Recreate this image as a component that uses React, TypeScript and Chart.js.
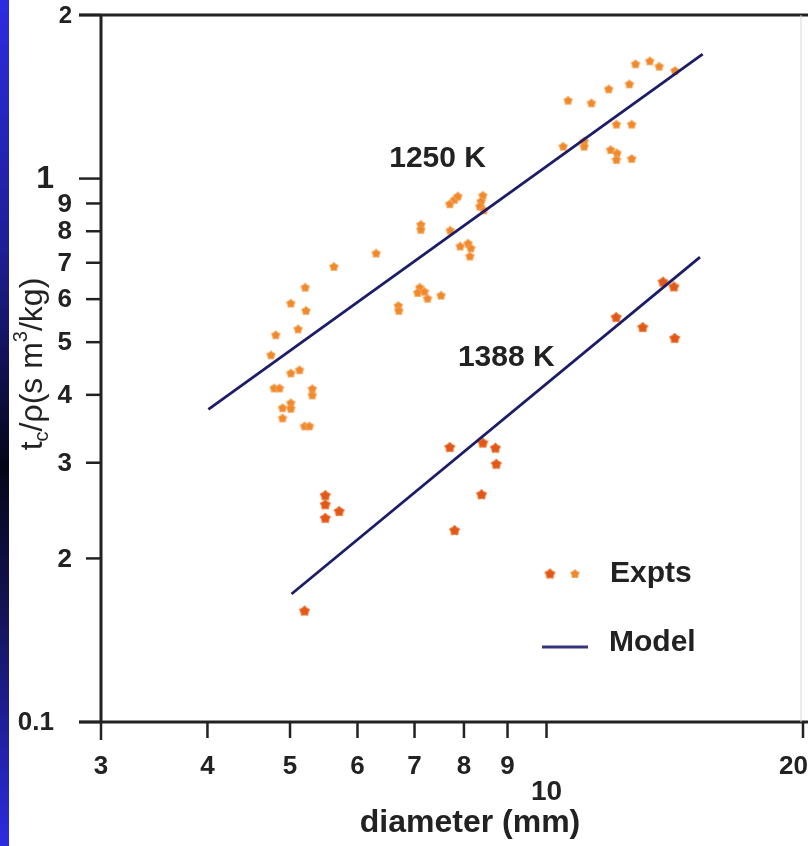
import React, { useEffect, useRef } from "react";
import { Chart, registerables } from "chart.js";

Chart.register(...registerables);

// ---------- data ----------
const xTickValues = [3, 4, 5, 6, 7, 8, 9, 10, 20];
const xTickLabels = ["3", "4", "5", "6", "7", "8", "9", "10", "20"];
const yTickValues = [0.1, 0.2, 0.3, 0.4, 0.5, 0.6, 0.7, 0.8, 0.9, 1, 2];
const yTickLabels = ["0.1", "2", "3", "4", "5", "6", "7", "8", "9", "1", "2"];

const diam1250 = [
  4.75, 4.81, 5.11, 5.01, 5.22, 5.21, 5.63, 6.31, 6.70, 6.71, 7.10, 7.06, 7.19, 7.25, 7.52,
  7.12, 7.12, 7.71, 7.70, 7.80, 7.87, 7.92, 8.09, 8.15, 8.13, 8.42, 8.38, 8.35, 8.44,
  10.46, 11.07, 11.07, 11.89, 12.10, 12.08, 12.59, 12.08, 12.59, 10.60, 11.29, 11.83, 12.51,
  12.72, 13.22, 13.56, 14.15,
  5.01, 5.13, 4.79, 4.86, 5.31, 5.31, 5.01, 4.90, 5.01, 4.90, 5.20, 5.27,
];
const time1250 = [
  0.473, 0.515, 0.528, 0.589, 0.571, 0.630, 0.688, 0.728, 0.583, 0.571, 0.630, 0.616, 0.619, 0.601, 0.609,
  0.822, 0.805, 0.802, 0.897, 0.914, 0.927, 0.750, 0.759, 0.744, 0.719, 0.930, 0.907, 0.888, 0.874,
  1.145, 1.170, 1.145, 1.129, 1.113, 1.082, 1.087, 1.257, 1.257, 1.391, 1.376, 1.460, 1.491,
  1.623, 1.644, 1.607, 1.578,
  0.438, 0.444, 0.411, 0.411, 0.410, 0.399, 0.386, 0.378, 0.377, 0.362, 0.350, 0.350,
];

const diam1388 = [5.20, 5.50, 5.50, 5.50, 5.71, 7.70, 7.80, 8.42, 8.71, 8.73, 8.39, 12.07, 12.97, 13.70, 14.11, 14.14];
const time1388 = [0.160, 0.261, 0.251, 0.237, 0.244, 0.320, 0.225, 0.326, 0.319, 0.298, 0.262, 0.555, 0.532, 0.645, 0.632, 0.508];

const model1250Diam = [4.01, 15.25];
const model1250Time = [0.376, 1.695];
const model1388Diam = [5.02, 15.14];
const model1388Time = [0.172, 0.717];

const annotations = [
  { text: "1250 K", x: 7.45, y: 1.09 },
  { text: "1388 K", x: 8.97, y: 0.469 },
];

// ---------- styles ----------
const NAVY = "#1c1c68";
const C1250 = "#F0882C";
const C1250_EDGE = "#F6A455";
const C1388 = "#E2581A";
const C1388_EDGE = "#EE7A34";
const INK = "#222222";
const FONT = "'Liberation Sans', Arial, Helvetica, sans-serif";

function makeStar(r: number, fill: string, edge: string): HTMLCanvasElement {
  const c = document.createElement("canvas");
  const s = Math.ceil(r * 2 + 4);
  c.width = s;
  c.height = s;
  const ctx = c.getContext("2d")!;
  ctx.beginPath();
  for (let i = 0; i < 10; i++) {
    const rad = i % 2 === 0 ? r : r * 0.7;
    const a = -Math.PI / 2 + (i * Math.PI) / 5;
    const px = s / 2 + rad * Math.cos(a);
    const py = s / 2 + rad * Math.sin(a);
    if (i === 0) ctx.moveTo(px, py);
    else ctx.lineTo(px, py);
  }
  ctx.closePath();
  ctx.fillStyle = fill;
  ctx.fill();
  ctx.strokeStyle = edge;
  ctx.lineWidth = 1;
  ctx.stroke();
  return c;
}

export default function App() {
  const ref = useRef<HTMLCanvasElement | null>(null);

  useEffect(() => {
    const canvas = ref.current;
    if (!canvas) return;
    const star1250 = makeStar(4.6, C1250, C1250_EDGE);
    const star1388 = makeStar(5.4, C1388, C1388_EDGE);

    const decor = {
      id: "decor",
      beforeDraw(chart: any) {
        const ctx = chart.ctx as CanvasRenderingContext2D;
        const H = chart.height;
        ctx.save();
        ctx.fillStyle = "#ffffff";
        ctx.fillRect(0, 0, chart.width, H);
        const g = ctx.createLinearGradient(0, 0, 0, H);
        g.addColorStop(0, "#2c2ce2");
        g.addColorStop(0.3, "#1e1e95");
        g.addColorStop(0.55, "#050518");
        g.addColorStop(0.72, "#131355");
        g.addColorStop(1, "#2c2ce2");
        ctx.fillStyle = g;
        ctx.fillRect(0, 0, 9, H);
        ctx.restore();
      },
      afterDraw(chart: any) {
        const ctx = chart.ctx as CanvasRenderingContext2D;
        const xs = chart.scales.x;
        const ys = chart.scales.y;
        const area = chart.chartArea;
        const L = area.left;
        const B = area.bottom;
        const T = area.top;
        const R = area.right;
        ctx.save();
        ctx.strokeStyle = INK;
        ctx.fillStyle = INK;
        ctx.lineCap = "butt";

        // frame
        ctx.lineWidth = 3;
        ctx.beginPath();
        ctx.moveTo(L, T - 1.5);
        ctx.lineTo(L, B + 1.5);
        ctx.moveTo(79, B);
        ctx.lineTo(chart.width, B);
        ctx.moveTo(79, T);
        ctx.lineTo(chart.width, T);
        ctx.stroke();
        ctx.strokeStyle = "#d8d8d8";
        ctx.lineWidth = 1;
        ctx.beginPath();
        ctx.moveTo(R - 2, T);
        ctx.lineTo(R - 2, B);
        ctx.stroke();

        // y ticks and labels
        ctx.strokeStyle = INK;
        ctx.lineWidth = 2.5;
        yTickValues.forEach((v, i) => {
          const py = ys.getPixelForValue(v);
          const major = v === 0.1 || v === 1 || v === 2;
          ctx.beginPath();
          ctx.moveTo(major ? 79 : 86, py);
          ctx.lineTo(L, py);
          ctx.stroke();
          let size = 26;
          let rx = 72;
          if (v === 1) { size = 32; rx = 54; }
          else if (v === 0.1) { size = 26; rx = 54; }
          else if (v === 2) { size = 24; rx = 72; }
          ctx.font = `bold ${size}px ${FONT}`;
          ctx.textAlign = "right";
          ctx.textBaseline = "middle";
          ctx.fillText(yTickLabels[i], rx, py + 1);
        });

        // x ticks and labels
        xTickValues.forEach((v, i) => {
          const px = xs.getPixelForValue(v);
          ctx.beginPath();
          ctx.moveTo(px, B);
          ctx.lineTo(px, B + (v === 3 ? 18 : 16));
          ctx.stroke();
          const lab = xTickLabels[i];
          const size = v === 10 ? 28 : 26;
          ctx.font = `bold ${size}px ${FONT}`;
          ctx.textBaseline = "middle";
          ctx.textAlign = "center";
          const w = ctx.measureText(lab).width;
          const cx = Math.min(px, chart.width - w / 2);
          ctx.fillText(lab, cx, v === 10 ? 792 : 767);
        });

        // x title
        ctx.font = `bold 32px ${FONT}`;
        ctx.textAlign = "center";
        ctx.textBaseline = "middle";
        ctx.fillText("diameter (mm)", 470, 823);

        // y title (rotated) with sub/superscript
        const segs = [
          { t: "t", s: 32, dy: 0 },
          { t: "c", s: 20, dy: 6 },
          { t: "/\u03c1(s m", s: 32, dy: 0 },
          { t: "3", s: 20, dy: -15 },
          { t: "/kg)", s: 32, dy: 0 },
        ];
        let total = 0;
        const widths = segs.map((sg) => {
          ctx.font = `${sg.s}px ${FONT}`;
          const w = ctx.measureText(sg.t).width;
          total += w;
          return w;
        });
        ctx.save();
        ctx.translate(42, 364);
        ctx.rotate(-Math.PI / 2);
        ctx.textAlign = "left";
        ctx.textBaseline = "alphabetic";
        let cx = -total / 2;
        segs.forEach((sg, i) => {
          ctx.font = `${sg.s}px ${FONT}`;
          ctx.fillText(sg.t, cx, sg.dy);
          cx += widths[i];
        });
        ctx.restore();

        // annotations
        ctx.font = `bold 30px ${FONT}`;
        ctx.textAlign = "center";
        ctx.textBaseline = "middle";
        annotations.forEach((a) => {
          ctx.fillText(a.text, xs.getPixelForValue(a.x), ys.getPixelForValue(a.y));
        });

        // legend
        ctx.drawImage(star1388, 550 - star1388.width / 2, 574 - star1388.height / 2);
        ctx.drawImage(star1250, 575 - star1250.width / 2, 574 - star1250.height / 2);
        ctx.font = `bold 30px ${FONT}`;
        ctx.textAlign = "left";
        ctx.textBaseline = "middle";
        ctx.fillText("Expts", 610, 574);
        ctx.strokeStyle = "#35357c";
        ctx.lineWidth = 3;
        ctx.beginPath();
        ctx.moveTo(542, 647);
        ctx.lineTo(588, 647);
        ctx.stroke();
        ctx.fillText("Model", 609, 643);

        ctx.restore();
      },
    };

    const chart = new Chart(canvas, {
      type: "scatter",
      data: {
        datasets: [
          {
            label: "Model 1250 K",
            data: model1250Diam.map((x, i) => ({ x, y: model1250Time[i] })),
            showLine: true,
            borderColor: NAVY,
            borderWidth: 2.8,
            pointRadius: 0,
          },
          {
            label: "Model 1388 K",
            data: model1388Diam.map((x, i) => ({ x, y: model1388Time[i] })),
            showLine: true,
            borderColor: NAVY,
            borderWidth: 2.8,
            pointRadius: 0,
          },
          {
            label: "Expts 1250 K",
            data: diam1250.map((x, i) => ({ x, y: time1250[i] })),
            pointStyle: star1250 as any,
            pointRadius: 4,
          },
          {
            label: "Expts 1388 K",
            data: diam1388.map((x, i) => ({ x, y: time1388[i] })),
            pointStyle: star1388 as any,
            pointRadius: 4,
          },
        ],
      },
      options: {
        responsive: false,
        animation: false,
        layout: { padding: { top: 15, right: 1, left: 0, bottom: 0 } },
        plugins: { legend: { display: false }, tooltip: { enabled: false } },
        scales: {
          x: {
            type: "logarithmic",
            min: 3,
            max: 20,
            ticks: { display: false },
            grid: { display: false, drawTicks: false },
            border: { display: false },
            afterFit: (s: any) => {
              s.height = 124;
            },
          },
          y: {
            type: "logarithmic",
            min: 0.1,
            max: 2,
            ticks: { display: false },
            grid: { display: false, drawTicks: false },
            border: { display: false },
            afterFit: (s: any) => {
              s.width = 101;
            },
          },
        },
      } as any,
      plugins: [decor],
    });

    return () => chart.destroy();
  }, []);

  return (
    <div style={{ position: "fixed", left: 0, top: 0, width: 808, height: 846, background: "#fff" }}>
      <canvas ref={ref} width={808} height={846} style={{ width: 808, height: 846, display: "block" }} />
    </div>
  );
}
